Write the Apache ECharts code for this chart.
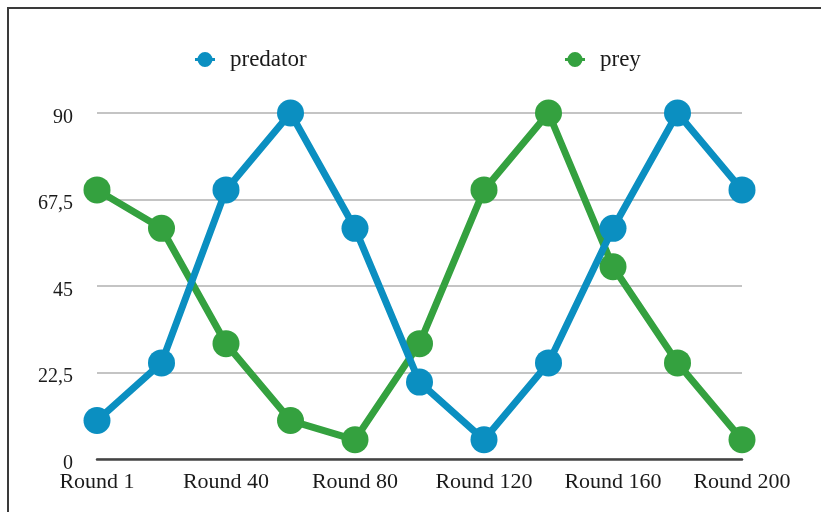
<!DOCTYPE html>
<html>
<head>
<meta charset="utf-8">
<script src="https://cdn.jsdelivr.net/npm/echarts@6/dist/echarts.min.js"></script>
<style>
  html, body { margin: 0; padding: 0; background: #fff; }
  #chart { width: 821px; height: 512px; }
</style>
</head>
<body>
<div id="chart"></div>
<script>
// Rounds sampled every 20 steps; only every other one is labelled
const rounds = ['Round 1', 'Round 20', 'Round 40', 'Round 60', 'Round 80', 'Round 100',
                'Round 120', 'Round 140', 'Round 160', 'Round 180', 'Round 200'];
const predator = [10, 25, 70, 90, 60, 20, 5, 25, 60, 90, 70];
const prey = [70, 60, 30, 10, 5, 30, 70, 90, 50, 25, 5];
const yTicks = [0, 22.5, 45, 67.5, 90];

const BLUE = '#0b8fc1';
const GREEN = '#34a13f';
const FONT = '"Liberation Serif", "Times New Roman", serif';

const chart = echarts.init(document.getElementById('chart'), null, { renderer: 'canvas' });

// legend marker: a short line stub with a dot on it
const lineDotIcon = 'path://M0,5.5L20,5.5L20,8.5L0,8.5Z M2.5,7A7.5,7.5,0,1,1,17.5,7A7.5,7.5,0,1,1,2.5,7Z';

function legendFor(name, left) {
  return {
    data: [name],
    left: left,
    top: 43,
    itemWidth: 20,
    itemHeight: 15,
    icon: lineDotIcon,
    selectedMode: false,
    textStyle: {
      fontFamily: FONT,
      fontSize: 23,
      color: '#1a1a1a',
      padding: [0, 0, 0, 10]
    }
  };
}

chart.setOption({
  animation: false,
  backgroundColor: '#fff',
  graphic: [{
    type: 'polyline',
    shape: { points: [[8, 512], [8, 8], [821, 8]] },
    style: { stroke: '#3a3a3a', lineWidth: 2, fill: null },
    silent: true
  }],
  legend: [legendFor('predator', 190), legendFor('prey', 560)],
  grid: { left: 97, right: 79, top: 113, bottom: 53, containLabel: false },
  xAxis: {
    type: 'category',
    data: rounds,
    boundaryGap: false,
    axisLine: { lineStyle: { color: '#444', width: 2.5 } },
    axisTick: { show: false },
    axisLabel: {
      interval: 1,
      margin: 12,
      fontFamily: FONT,
      fontSize: 22,
      color: '#1a1a1a'
    },
    splitLine: { show: false }
  },
  yAxis: {
    type: 'value',
    min: yTicks[0],
    max: yTicks[yTicks.length - 1],
    interval: yTicks[1] - yTicks[0],
    axisLine: { show: false },
    axisTick: { show: false },
    axisLabel: {
      margin: 24,
      formatter: v => '{n|' + String(v).replace('.', ',') + '}',
      rich: {
        n: {
          fontFamily: FONT,
          fontSize: 20,
          color: '#1a1a1a',
          padding: [9, 0, 0, 0]
        }
      }
    },
    splitLine: { lineStyle: { color: '#c4c4c4', width: 2 } }
  },
  series: [
    {
      name: 'prey',
      type: 'line',
      data: prey,
      symbol: 'circle',
      symbolSize: 27,
      lineStyle: { color: GREEN, width: 7 },
      itemStyle: { color: GREEN },
      z: 2
    },
    {
      name: 'predator',
      type: 'line',
      data: predator,
      symbol: 'circle',
      symbolSize: 27,
      lineStyle: { color: BLUE, width: 7 },
      itemStyle: { color: BLUE },
      z: 3
    }
  ]
});
</script>
</body>
</html>
